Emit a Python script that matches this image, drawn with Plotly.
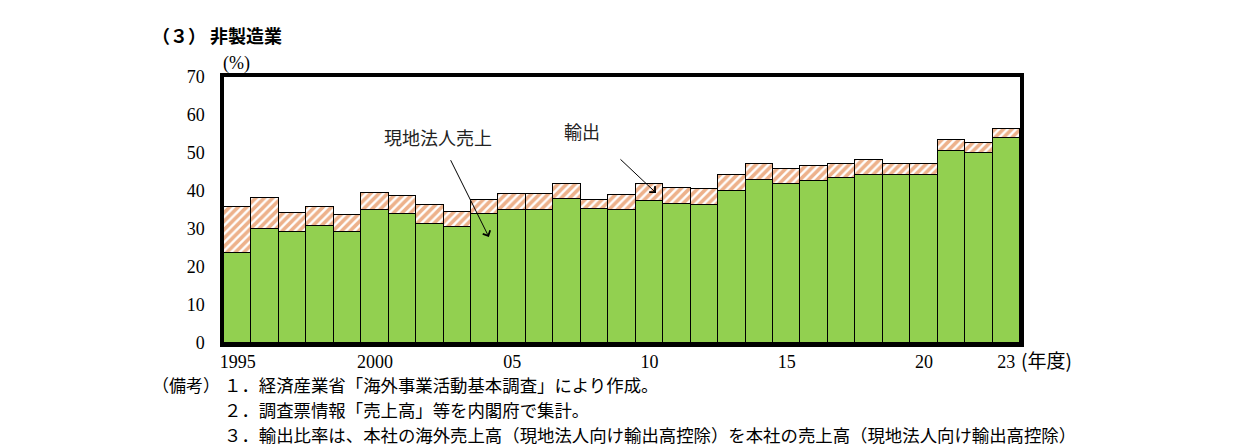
import plotly.graph_objects as go

# 年度
years = list(range(1995, 2024))

# 現地法人売上比率 (%)
local_sales = [23.8, 29.9, 29.1, 30.7, 29.1, 34.9, 33.9, 31.2, 30.4, 33.9,
               34.9, 34.9, 37.8, 35.2, 34.9, 37.5, 36.7, 36.4, 40.1, 43.0,
               41.9, 42.7, 43.3, 44.3, 44.1, 44.1, 50.5, 50.1, 53.9]

# 合計 (現地法人売上 + 輸出) (%)
total = [35.9, 38.1, 34.1, 35.9, 33.6, 39.4, 38.6, 36.3, 34.6, 37.6,
         39.2, 39.2, 41.8, 37.6, 38.9, 41.9, 40.9, 40.4, 44.1, 47.2,
         45.9, 46.7, 47.0, 48.1, 47.2, 47.2, 53.4, 52.6, 56.3]

export = [round(t - l, 1) for t, l in zip(total, local_sales)]

tick_vals = [1995, 2000, 2005, 2010, 2015, 2020, 2023]
tick_text = ["1995", "2000", "05", "10", "15", "20", "23"]

notes = [
    "１．経済産業省「海外事業活動基本調査」により作成。",
    "２．調査票情報「売上高」等を内閣府で集計。",
    "３．輸出比率は、本社の海外売上高（現地法人向け輸出高控除）を本社の売上高（現地法人向け輸出高控除）",
]

jp = "Noto Sans CJK JP"
serif = "Liberation Serif"

# page is drawn with an 8px body margin, so work in window pixels and shift
OFF = 8
W, H = 1241 - OFF, 446 - OFF
L, T = 224 - OFF, 77 - OFF
R, B = 221, 103
pw, ph = W - L - R, H - T - B


def px(x, y):
    # window pixel -> paper coords
    return (x - OFF - L) / pw, (H - B - (y - OFF)) / ph


fig = go.Figure()

fig.add_trace(go.Bar(
    x=years, y=local_sales, name="現地法人売上",
    marker=dict(color="#92D050", line=dict(color="black", width=1)),
    width=1,
))
fig.add_trace(go.Bar(
    x=years, y=export, name="輸出",
    marker=dict(
        color="white",
        line=dict(color="black", width=1),
        pattern=dict(shape="/", fgcolor="#DC6418", bgcolor="white",
                     size=6, solidity=0.6),
    ),
    width=1,
))

# 吹き出し
fig.add_annotation(x=2002.3, y=54.3, text="現地法人売上", showarrow=False,
                   font=dict(family=jp, size=18, color="#222"))
fig.add_annotation(x=2004.15, y=27.9, ax=2002.73, ay=48.5,
                   xref="x", yref="y", axref="x", ayref="y", text="",
                   showarrow=True, arrowhead=4, arrowsize=1.6, arrowwidth=1,
                   arrowcolor="black")
fig.add_annotation(x=2007.54, y=55.9, text="輸出", showarrow=False,
                   font=dict(family=jp, size=18, color="#222"))
fig.add_annotation(x=2010.24, y=39.5, ax=2008.89, ay=48.7,
                   xref="x", yref="y", axref="x", ayref="y", text="",
                   showarrow=True, arrowhead=4, arrowsize=1.6, arrowwidth=1,
                   arrowcolor="black")


def label(x, y, text, family=jp, size=15):
    ax_, ay_ = px(x, y)
    fig.add_annotation(x=ax_, y=ay_, xref="paper", yref="paper", text=text,
                       showarrow=False, xanchor="left", yanchor="middle",
                       font=dict(family=family, size=size, color="black"))


# タイトル・単位
label(150, 35, "<b>（３） 非製造業</b>", size=18)
label(221, 63, "(%)", family=serif, size=18)
label(1019, 359, "(年度)", size=19)

# 備考
label(150, 384, "（備考）", size=17)
for i, line in enumerate(notes):
    label(222, 384 + 25 * i, line, size=17.4)

fig.update_layout(
    width=W, height=H,
    barmode="stack", bargap=0,
    showlegend=False,
    margin=dict(l=L, r=R, t=T, b=B, pad=0),
    plot_bgcolor="white", paper_bgcolor="white",
    xaxis=dict(range=[1994.5, 2023.5], tickvals=tick_vals, ticktext=tick_text,
               showgrid=False, zeroline=False, showline=True, linecolor="black",
               linewidth=3.5, mirror=True, ticks="",
               tickfont=dict(family=serif, size=18, color="black")),
    yaxis=dict(range=[0, 70], dtick=10, showgrid=False, zeroline=False,
               showline=True, linecolor="black", linewidth=3.5, mirror=True,
               ticks="outside", ticklen=12, tickcolor="rgba(0,0,0,0)",
               tickfont=dict(family=serif, size=18, color="black")),
)

fig.write_html("out.html")
